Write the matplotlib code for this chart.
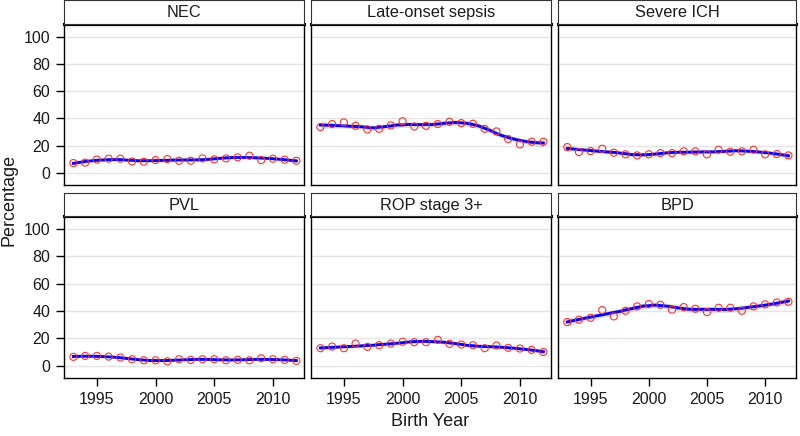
import numpy as np
import matplotlib
matplotlib.use("Agg")
import matplotlib.pyplot as plt

plt.rcParams['font.family'] = ['Liberation Sans', 'DejaVu Sans']

years = list(range(1993, 2013))
titles = ["NEC", "Late-onset sepsis", "Severe ICH", "PVL", "ROP stage 3+", "BPD"]
nec = [7.3, 7.6, 9.8, 10.5, 10.5, 8.5, 8.3, 9.5, 10.2, 9.0, 9.0, 10.7, 10.0, 10.7, 11.5, 12.7, 9.5, 10.5, 9.8, 9.0]
los = [33.7, 35.9, 37.1, 34.6, 32.0, 32.4, 34.9, 38.0, 34.1, 34.6, 35.9, 37.6, 36.6, 36.1, 32.4, 30.5, 24.9, 21.0, 22.9, 22.9]
ich = [19.0, 15.4, 16.1, 17.8, 14.9, 13.7, 12.9, 13.7, 14.6, 14.6, 15.9, 15.9, 13.7, 17.1, 15.6, 15.9, 17.1, 13.7, 13.9, 12.9]
pvl = [6.6, 7.3, 7.3, 6.8, 6.1, 4.9, 4.1, 4.1, 3.4, 4.9, 4.4, 4.9, 4.9, 4.1, 4.4, 4.1, 5.6, 4.9, 4.4, 3.7]
rop = [12.9, 14.1, 12.9, 16.3, 13.9, 15.1, 16.3, 17.6, 17.3, 17.3, 19.0, 16.1, 15.6, 15.1, 12.9, 14.9, 13.2, 12.7, 11.7, 10.2]
bpd = [32.0, 33.7, 35.1, 40.7, 36.1, 40.2, 43.4, 45.1, 44.6, 41.0, 42.9, 41.7, 39.3, 42.4, 42.4, 40.2, 43.4, 44.9, 46.3, 46.8]
series = [nec, los, ich, pvl, rop, bpd]
y_ticks = [0, 20, 40, 60, 80, 100]
x_ticks = [1995, 2000, 2005, 2010]

SPAN = 0.5


def loess_weights(x, x0, span=SPAN):
    n = len(x)
    q = int(np.floor(span * n))
    d = np.abs(x - x0)
    h = np.sort(d)[q - 1] * 1.0000001
    u = np.clip(d / h, 0, 1)
    w = (1 - u ** 3) ** 3
    X = np.column_stack([np.ones(n), x - x0, (x - x0) ** 2])
    XtW = X.T * w
    A = np.linalg.solve(XtW @ X, XtW)
    return A[0]


def loess_fit(x, y, xs, span=SPAN):
    x = np.asarray(x, float)
    y = np.asarray(y, float)
    Lx = np.array([loess_weights(x, x0, span) for x0 in x])
    resid = y - Lx @ y
    R = np.eye(len(x)) - Lx
    d1 = np.trace(R.T @ R)
    sigma = np.sqrt(np.sum(resid ** 2) / d1)
    tq = 2.11
    fits, ses = [], []
    for x0 in xs:
        l = loess_weights(x, x0, span)
        fits.append(l @ y)
        ses.append(sigma * np.sqrt(np.sum(l ** 2)))
    fits = np.array(fits)
    ses = np.array(ses)
    return fits, fits - tq * ses, fits + tq * ses


fig = plt.figure(figsize=(8, 4.36), dpi=100)
W, H = 800, 436
cols = [(64, 304), (311, 551), (558, 796)]
rows = [(0.5, 24, 185), (193, 216, 378)]  # strip top, panel top, panel bottom

xs = np.linspace(1993, 2012, 80)
for i, (title, vals) in enumerate(zip(titles, series)):
    r, c = divmod(i, 3)
    x0, x1 = cols[c]
    st, pt, pb = rows[r]
    ax = fig.add_axes([x0 / W, 1 - pb / H, (x1 - x0) / W, (pb - pt) / H])
    sax = fig.add_axes([x0 / W, 1 - pt / H, (x1 - x0) / W, (pt - st) / H])
    sax.set_xticks([]); sax.set_yticks([])
    for s in sax.spines.values():
        s.set_linewidth(0.8); s.set_color('#333333')
    sax.text(0.5, 0.47, title, ha='center', va='center', fontsize=11.8,
             color='#1A1A1A', transform=sax.transAxes)

    fit, lo, hi = loess_fit(years, vals, xs)
    ax.fill_between(xs, lo, hi, color='#999999', alpha=0.3, linewidth=0, zorder=2)
    ax.plot(xs, fit, color='#0000FF', linewidth=2.1, zorder=3)
    ax.scatter(years, vals, s=26, facecolors='none', edgecolors='#FF3030', linewidths=0.8, zorder=4)

    ax.set_xlim(1992.2, 2012.65)
    ax.set_ylim(-8.8, 109.3)
    ax.set_yticks(y_ticks)
    ax.set_xticks(x_ticks)
    ax.yaxis.grid(True, color='#E5E5E5', linewidth=1.0, zorder=0)
    ax.set_axisbelow(True)
    for s in ax.spines.values():
        s.set_linewidth(1.0); s.set_color('black')
    ax.spines['top'].set_linewidth(2.3)
    ax.tick_params(axis='both', direction='out', width=1.0, color='black',
                   labelsize=11.5, labelcolor='#1A1A1A')
    ax.tick_params(axis='y', length=6, pad=4)
    ax.tick_params(axis='x', length=6, pad=4)
    if c != 0:
        ax.tick_params(axis='y', left=False, labelleft=False)
    if r == 0:
        ax.tick_params(axis='x', bottom=False, labelbottom=False)

fig.text(430 / W, 1 - 421 / H, "Birth Year", ha='center', va='center', fontsize=13, color='#1A1A1A')
fig.text(9 / W, 1 - 200 / H, "Percentage", ha='center', va='center', fontsize=13,
         rotation=90, color='#1A1A1A')

fig.savefig("out.png", dpi=100)
